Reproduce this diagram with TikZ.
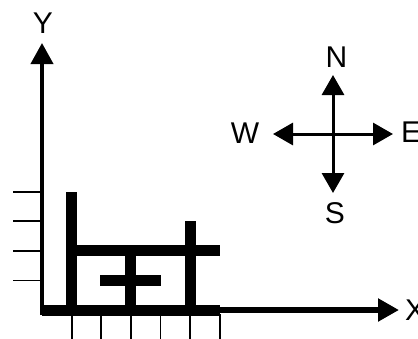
\documentclass[tikz,border=0pt]{standalone}
\usepackage{fontspec}
\setmainfont{Liberation Sans}
\usetikzlibrary{arrows.meta}
\begin{document}
\begin{tikzpicture}[x=1pt,y=-1pt,
  lbl/.style={inner sep=0pt,font=\fontsize{30}{32}\selectfont},
  axis/.style={draw=black,-{Triangle[length=21pt,width=22pt]}},
  compassarrow/.style={draw=black,line width=3pt,-{Triangle[length=20pt,width=22pt]}},
  tick/.style={draw=black,line width=1.8pt},
  bar/.style={draw=black,line width=11pt}]
\useasboundingbox (0,0) rectangle (418,338);
\def\u{29.6}
% axes
\coordinate (O) at (42,310);
\coordinate (Ytip) at (42,43);
\coordinate (Xtip) at (399,310);
\coordinate (Ybot) at (42,315);
\draw[axis,line width=4pt] (Ybot) -- (Ytip);
\draw[axis,line width=6pt] (O) -- (Xtip);
\node[lbl] (Y) at (43,23.5) {Y};
\node[lbl,anchor=west] (X) at (405,310) {X};
% ticks on y axis
\foreach \k in {1,...,4}{
  \coordinate (yt\k) at (42,{310-\k*\u});
  \draw[tick] (yt\k) -- ++(-29,0);
}
% ticks below x axis
\foreach \k in {1,...,6}{
  \coordinate (xt\k) at ({42+\k*\u},314);
  \draw[tick] (xt\k) -- ++(0,30);
}
% thick bars
\draw[bar] (O) -- ({42+6*\u},310);
\draw[bar] ({42+1*\u},310) -- ({42+1*\u},{310-4*\u});
\draw[bar] ({42+5*\u},310) -- ({42+5*\u},{310-3*\u});
\draw[bar] ({42+1*\u},{310-2*\u}) -- ({42+6*\u},{310-2*\u});
\draw[bar] ({42+3*\u},310) -- ({42+3*\u},{310-2*\u});
\draw[bar] ({42+2*\u-1},{310-\u}) -- ({42+4*\u+1},{310-\u});
% compass
\coordinate (C) at (333,134);
\coordinate (Nt) at (333,75);
\coordinate (St) at (333,193);
\coordinate (Wt) at (273,134);
\coordinate (Et) at (393,134);
\draw[compassarrow] (C) -- (Nt);
\draw[compassarrow] (C) -- (St);
\draw[compassarrow] (C) -- (Wt);
\draw[compassarrow] (C) -- (Et);
\node[lbl] (N) at (336.5,57.5) {N};
\node[lbl] (S) at (335,213) {S};
\node[lbl] (W) at (245,133) {W};
\node[lbl,anchor=west] (E) at (401,132) {E};
\end{tikzpicture}
\end{document}
